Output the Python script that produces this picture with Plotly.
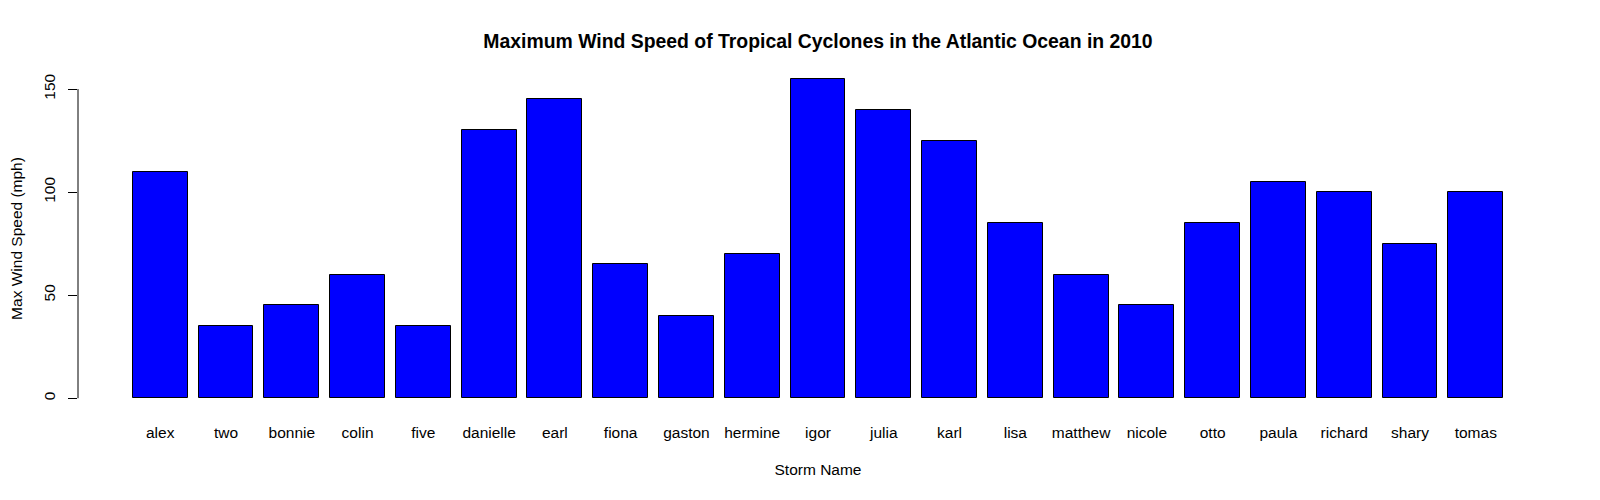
import plotly.graph_objects as go

storms = ["alex", "two", "bonnie", "colin", "five", "danielle", "earl", "fiona",
          "gaston", "hermine", "igor", "julia", "karl", "lisa", "matthew", "nicole",
          "otto", "paula", "richard", "shary", "tomas"]
max_wind = [110, 35, 45, 60, 35, 130, 145, 65, 40, 70, 155, 140, 125, 85, 60, 45,
            85, 105, 100, 75, 100]
y_ticks = [0, 50, 100, 150]

FONT = "Liberation Sans, Arial, sans-serif"
FS = 15.5
# page body has an 8px default margin; the figure is sized to fill the rest
W, H = 1592, 492

fig = go.Figure(go.Bar(
    x=storms, y=max_wind, width=1/1.2,
    marker=dict(color="#0000FF", line=dict(color="black", width=1)),
))

n = len(storms)
ymax = max(max_wind)
fig.update_layout(
    width=W, height=H,
    paper_bgcolor="white", plot_bgcolor="white",
    margin=dict(l=70, r=42, t=58, b=89, autoexpand=False),
    font=dict(family=FONT, size=FS, color="black"),
    title=dict(text="<b>Maximum Wind Speed of Tropical Cyclones in the Atlantic Ocean in 2010</b>",
               x=0.5, xref="paper", xanchor="center", y=1 - 33/H, yanchor="middle",
               font=dict(size=19.4, family=FONT, color="black")),
    showlegend=False,
    bargap=0,
)
fig.update_xaxes(
    range=[-1.25, n - 1 + 1.25], showgrid=False, zeroline=False, showline=False,
    automargin=False,
    ticks="outside", ticklen=7, tickcolor="rgba(0,0,0,0)",
    tickfont=dict(size=FS, family=FONT),
    title=dict(text="Storm Name", standoff=24, font=dict(size=FS, family=FONT)),
)
fig.update_yaxes(
    range=[-0.04 * ymax, ymax * 1.04], showgrid=False, zeroline=False, showline=False,
    automargin=False,
    tickvals=y_ticks, ticktext=[str(v) for v in y_ticks],
    ticks="outside", ticklen=9, tickwidth=1, tickcolor="black",
    tickangle=-90, ticklabelstandoff=7,
    tickfont=dict(size=FS, family=FONT),
    title=dict(text="Max Wind Speed (mph)", standoff=20, font=dict(size=FS, family=FONT)),
)
fig.add_shape(type="line", xref="paper", yref="y", x0=0, x1=0,
              y0=y_ticks[0], y1=y_ticks[-1], line=dict(color="black", width=1))

fig.write_html("out.html")
